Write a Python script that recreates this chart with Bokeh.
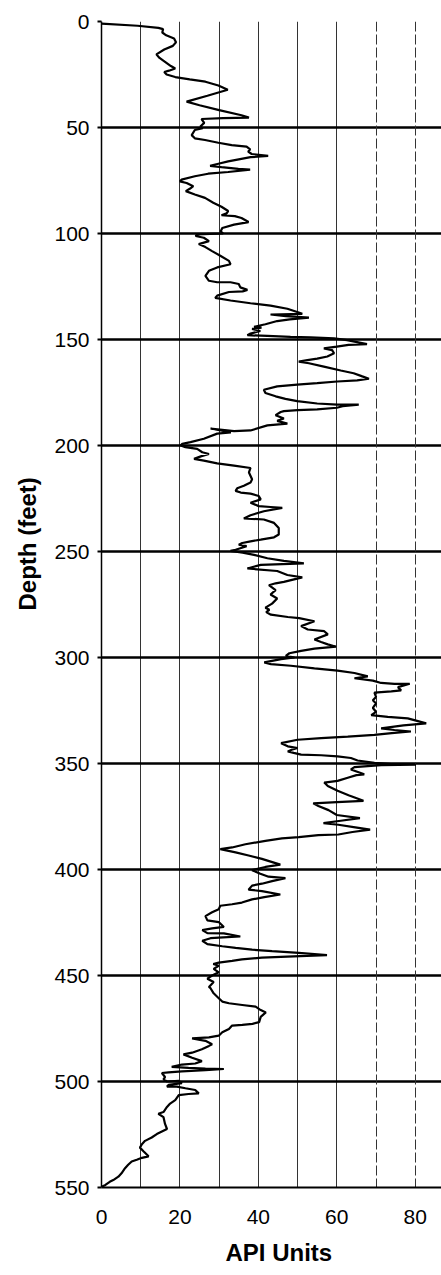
from bokeh.plotting import figure
from bokeh.models import Range1d, FixedTicker, Grid, Title, ColumnDataSource
from bokeh.embed import file_html
from bokeh.resources import INLINE

# Gamma-ray log: (API units, depth in feet)
seg_0_50 = [(0, 1.0), (9.2, 2.0), (14.5, 3.0), (15.7, 3.6), (15.5, 5.2), (16.5, 6.5), (18.5, 8.0),
            (19.0, 9.8), (18.2, 11.5), (16.0, 13.2), (14.0, 15.5), (14.8, 17.2), (16.2, 19.0),
            (17.7, 21.0), (18.8, 22.2), (17.2, 23.2), (16.0, 23.8), (16.6, 25.0), (18.8, 26.2),
            (22.5, 27.3), (26.5, 28.4), (29.8, 30.2), (32.2, 32.2), (27.0, 35.0), (21.7, 37.8),
            (25.0, 39.5), (30.0, 41.8), (35.7, 44.2), (37.6, 45.3), (31.0, 45.6), (25.5, 46.0),
            (26.2, 47.8), (25.2, 49.5), (25.8, 50.3)]
seg_50_100 = [(23.8, 51.2), (23.0, 53.6), (23.8, 55.1), (26.4, 55.9), (29.8, 57.2), (33.2, 58.3),
              (37.0, 59.0), (37.9, 60.3), (37.4, 61.4), (38.3, 62.5), (42.5, 63.4), (38.0, 64.0),
              (35.0, 65.0), (32.3, 66.0), (29.8, 67.1), (27.7, 68.1), (30.6, 68.7), (34.9, 69.5),
              (37.9, 69.9), (32.3, 71.0), (27.2, 71.8), (23.8, 73.0), (20.4, 74.6), (20.0, 75.4),
              (21.7, 76.2), (23.4, 77.7), (22.6, 78.8), (21.5, 80.0), (23.8, 81.6), (26.4, 83.2),
              (28.5, 85.5), (30.6, 87.4), (32.3, 89.4), (31.9, 90.5), (30.6, 91.4), (34.0, 91.8),
              (35.7, 92.7), (37.5, 94.6), (33.8, 95.8), (30.8, 97.4), (30.4, 98.9), (31.0, 100.0)]
seg_100_184 = [(24.4, 100.4), (24.0, 101.2), (26.1, 102.0), (27.4, 103.6), (24.8, 105.0), (26.5, 106.4),
               (28.2, 108.3), (30.4, 110.6), (32.5, 112.9), (32.9, 114.5), (29.5, 116.0), (27.4, 117.6),
               (26.5, 120.0), (27.4, 122.3), (29.5, 123.0), (32.9, 123.0), (35.0, 123.8), (35.4, 125.4),
               (37.2, 126.6), (36.0, 127.3), (32.5, 127.6), (29.5, 129.3), (29.0, 130.4), (32.9, 131.6),
               (38.0, 132.9), (43.1, 134.0), (47.4, 135.5), (49.9, 137.0), (51.2, 137.9), (43.1, 138.2),
               (47.0, 139.0), (52.9, 139.7), (48.0, 140.5), (44.8, 141.3), (41.8, 142.8), (38.9, 144.0),
               (40.8, 144.4), (38.4, 145.0), (40.5, 146.0), (38.0, 147.2), (37.2, 148.0), (42.3, 148.3),
               (48.2, 148.8), (53.3, 149.0), (59.3, 149.5), (62.6, 150.3), (67.7, 152.2), (63.0, 152.5),
               (60.0, 153.4), (56.7, 154.2), (58.8, 155.0), (59.3, 156.5), (57.6, 158.0), (55.0, 159.0),
               (52.5, 159.7), (50.3, 160.4), (52.9, 161.2), (56.7, 162.8), (61.0, 164.6), (64.3, 165.9),
               (66.5, 167.4), (68.2, 168.5), (65.2, 169.3), (60.1, 169.8), (55.0, 170.6), (49.9, 171.3),
               (44.8, 172.1), (41.4, 173.7), (41.8, 175.2), (44.4, 176.8), (46.9, 178.0), (49.9, 179.1),
               (55.0, 180.2), (60.1, 180.7), (65.6, 180.7), (61.5, 181.5), (60.0, 182.2), (55.0, 183.0),
               (50.0, 183.3), (46.5, 183.8)]
seg_184_283 = [(45.7, 184.2), (44.4, 185.7), (46.5, 187.3), (44.8, 188.4), (47.4, 189.7), (42.3, 190.5),
               (38.0, 192.9), (33.8, 193.2), (27.8, 192.0), (33.0, 193.8), (29.5, 194.4), (26.1, 196.8),
               (22.7, 198.4), (20.6, 199.2), (20.2, 200.0), (21.4, 200.8), (24.4, 201.6), (25.7, 203.2),
               (27.4, 204.0), (25.5, 205.0), (23.6, 206.3), (26.1, 207.1), (29.5, 208.4), (33.8, 209.5),
               (38.0, 210.6), (37.6, 212.7), (38.4, 215.9), (38.0, 217.5), (36.3, 219.0), (34.6, 220.2),
               (34.2, 221.4), (35.5, 222.2), (38.0, 222.7), (40.1, 223.8), (40.6, 225.4), (38.0, 227.0),
               (40.1, 228.6), (43.1, 229.0), (46.1, 229.4), (41.4, 231.0), (38.0, 232.9), (36.3, 234.4),
               (41.4, 234.9), (44.0, 236.5), (45.2, 238.9), (45.2, 242.0), (44.0, 243.3), (40.6, 244.4),
               (38.0, 245.2), (35.9, 246.0), (35.0, 246.8), (37.0, 247.5), (34.2, 249.2), (32.9, 249.7),
               (36.0, 250.5), (38.9, 251.6), (42.3, 253.2), (46.5, 254.4), (51.6, 255.6), (40.6, 256.3),
               (37.2, 258.0), (44.8, 259.2), (47.4, 261.1), (51.2, 262.2), (46.5, 264.3), (44.4, 265.0),
               (42.7, 265.9), (44.4, 268.2), (43.1, 270.3), (44.8, 272.2), (43.5, 274.6), (41.8, 276.5),
               (42.8, 277.5), (42.0, 278.6), (43.2, 279.8), (47.5, 280.9), (50.4, 281.4), (54.3, 282.9)]
seg_283_369 = [(50.9, 285.2), (52.6, 286.8), (56.8, 287.6), (57.7, 289.1), (54.3, 291.5), (56.0, 292.7),
               (57.7, 293.8), (59.8, 294.9), (54.3, 295.8), (50.9, 296.9), (47.9, 298.0), (47.0, 299.2),
               (49.2, 300.0), (45.8, 300.8), (41.5, 302.3), (43.2, 303.1), (48.3, 303.9), (54.3, 305.1),
               (60.2, 306.2), (64.5, 307.3), (67.9, 308.9), (64.5, 309.8), (69.2, 310.9), (71.3, 312.0),
               (74.7, 312.4), (78.6, 312.4), (75.6, 314.0), (76.4, 315.5), (73.9, 316.0), (71.3, 316.3),
               (69.6, 316.6), (70.0, 318.6), (69.2, 320.2), (70.0, 321.7), (69.2, 323.8), (70.0, 325.6),
               (68.8, 327.2), (73.0, 328.0), (78.1, 328.7), (82.8, 331.1), (77.0, 332.0), (71.3, 333.4),
               (74.7, 334.2), (78.9, 334.9), (74.0, 335.7), (69.6, 336.5), (62.8, 337.3), (56.0, 338.0),
               (50.0, 338.8), (45.8, 340.4), (47.5, 341.9), (50.0, 342.7), (48.5, 343.5), (47.5, 344.3),
               (49.0, 345.0), (50.9, 345.8), (56.0, 346.1), (60.2, 346.6), (63.6, 347.4), (65.3, 348.6),
               (69.6, 349.7), (75.6, 350.5), (80.2, 350.5), (71.3, 350.8), (64.5, 351.7), (63.6, 352.8),
               (67.0, 355.1), (65.0, 355.5), (62.8, 356.7), (60.2, 358.2), (56.8, 359.0), (57.7, 360.6),
               (60.2, 362.9), (63.0, 365.0), (66.8, 367.6), (60.0, 368.2), (54.0, 368.8)]
seg_369_456 = [(55.3, 370.0), (57.9, 372.0), (60.0, 374.3), (65.9, 375.8), (61.0, 377.0), (56.6, 378.1),
               (60.4, 378.9), (64.7, 380.1), (68.5, 381.2), (64.0, 382.3), (60.4, 383.5), (55.3, 383.8),
               (50.3, 384.7), (46.0, 385.3), (41.8, 386.5), (36.7, 388.1), (33.3, 389.6), (30.3, 390.4),
               (34.2, 391.9), (37.5, 393.4), (40.9, 395.0), (45.6, 397.7), (41.8, 398.8), (38.4, 400.3),
               (40.5, 402.0), (42.6, 403.4), (46.9, 404.1), (43.5, 405.5), (40.9, 406.7), (38.4, 407.6),
               (37.5, 409.5), (40.9, 410.2), (45.6, 411.8), (41.5, 413.0), (38.4, 414.1), (35.8, 415.6),
               (33.3, 416.4), (30.3, 417.1), (29.9, 418.7), (28.2, 420.2), (26.5, 422.0), (27.0, 424.0),
               (29.9, 424.8), (31.2, 427.1), (28.2, 427.8), (25.7, 428.6), (27.0, 430.0), (31.2, 430.1),
               (35.4, 431.6), (31.0, 432.0), (27.8, 432.4), (25.7, 433.6), (27.0, 435.2), (30.8, 436.2),
               (34.2, 437.0), (38.4, 437.8), (43.5, 438.5), (50.3, 439.3), (57.5, 440.4), (49.0, 441.0),
               (40.9, 441.6), (35.8, 442.4), (33.3, 443.1), (29.9, 443.9), (28.5, 444.6), (29.9, 445.4),
               (28.6, 446.9), (29.9, 448.5), (28.2, 450.0), (27.0, 451.5), (28.6, 453.1), (27.4, 455.4)]
seg_456_550 = [(27.8, 456.0), (28.6, 458.4), (29.9, 460.7), (30.8, 462.3), (32.5, 463.1), (35.9, 463.9),
               (39.3, 464.7), (40.6, 466.3), (41.9, 467.4), (40.6, 469.5), (40.2, 472.0), (38.5, 472.8),
               (35.9, 473.3), (33.3, 473.6), (32.5, 475.2), (30.8, 476.8), (29.9, 478.4), (27.4, 479.2),
               (23.1, 479.7), (26.5, 480.8), (28.2, 482.4), (27.4, 483.2), (25.6, 484.8), (23.1, 486.4),
               (20.9, 487.2), (23.1, 488.8), (25.6, 490.4), (23.9, 491.5), (20.5, 492.0), (17.9, 493.1),
               (22.2, 493.6), (26.5, 493.9), (31.2, 494.1), (26.5, 494.7), (20.5, 495.2), (17.1, 495.7),
               (15.4, 496.0), (16.2, 497.9), (15.8, 499.0), (16.7, 500.0), (19.7, 499.7), (20.5, 500.8),
               (17.1, 501.6), (16.7, 502.4), (19.2, 502.4), (21.4, 503.2), (23.9, 504.0), (24.8, 505.6),
               (22.2, 505.9), (19.7, 506.4), (18.8, 508.8), (17.5, 510.4), (16.7, 512.0), (15.8, 514.4),
               (14.5, 515.2), (15.8, 516.8), (16.2, 520.0), (16.7, 522.4), (15.4, 523.6), (14.1, 524.8),
               (12.8, 526.4), (11.1, 528.0), (10.3, 529.6), (9.8, 531.2), (10.7, 532.9), (12.0, 535.3),
               (10.3, 536.0), (9.0, 536.9), (7.7, 537.7), (6.8, 539.3), (6.0, 540.9), (5.1, 543.3),
               (4.3, 544.9), (3.0, 546.5), (2.1, 547.3), (0.9, 548.9), (0.0, 549.7)]

x_ticks = [0, 20, 40, 60, 80]
y_ticks = [0, 50, 100, 150, 200, 250, 300, 350, 400, 450, 500, 550]
grid_solid = [10, 20, 30, 40, 50, 60]
grid_dashed = [70, 80]
x_title = "API Units"
y_title = "Depth (feet)"

segments = [seg_0_50, seg_50_100, seg_100_184, seg_184_283, seg_283_369, seg_369_456, seg_456_550]
api = [pt[0] for s in segments for pt in s]
depth = [pt[1] for s in segments for pt in s]
src = ColumnDataSource(dict(api=api, depth=depth))

FONT = "Liberation Sans"

p = figure(width=441, height=1275, x_range=Range1d(0, 86.7), y_range=Range1d(550, 0),
           output_backend="svg", toolbar_location=None,
           min_border_left=101, min_border_right=0, min_border_top=21, min_border_bottom=0)
p.outline_line_color = None
p.background_fill_color = "white"
p.border_fill_color = "white"

# axes
p.xaxis.ticker = FixedTicker(ticks=x_ticks)
p.yaxis.ticker = FixedTicker(ticks=y_ticks)
for ax in (p.xaxis, p.yaxis):
    ax.major_label_text_font = FONT
    ax.major_label_text_font_size = "21px"
    ax.major_label_text_color = "black"
    ax.minor_tick_line_color = None
    ax.axis_line_color = "black"
p.yaxis.axis_line_width = 1.5
p.xaxis.axis_line_width = 2
p.xaxis.major_tick_line_color = None
p.xaxis.major_label_standoff = 16
p.yaxis.major_tick_out = 4
p.yaxis.major_tick_in = 0
p.yaxis.major_tick_line_width = 2
p.yaxis.major_tick_line_color = "black"
p.yaxis.major_label_standoff = 8

# grids
p.xgrid.ticker = FixedTicker(ticks=grid_solid)
p.xgrid.grid_line_color = "#333333"
p.xgrid.grid_line_width = 1
p.ygrid.ticker = FixedTicker(ticks=y_ticks)
p.ygrid.grid_line_color = "black"
p.ygrid.grid_line_width = 2.5
g2 = Grid(dimension=0, ticker=FixedTicker(ticks=grid_dashed),
          grid_line_color="#333333", grid_line_width=1, grid_line_dash="10 3")
p.add_layout(g2)

p.line("api", "depth", source=src, line_color="black", line_width=2.2)

p.add_layout(Title(text=x_title, align="left", offset=124, standoff=20, text_font=FONT,
                   text_font_size="24px", text_font_style="bold", text_color="black"), "below")
p.add_layout(Title(text=y_title, align="left", offset=577, standoff=22, text_font=FONT,
                   text_font_size="24px", text_font_style="bold", text_color="black"), "left")

open("out.html", "w").write(file_html(p, INLINE))
